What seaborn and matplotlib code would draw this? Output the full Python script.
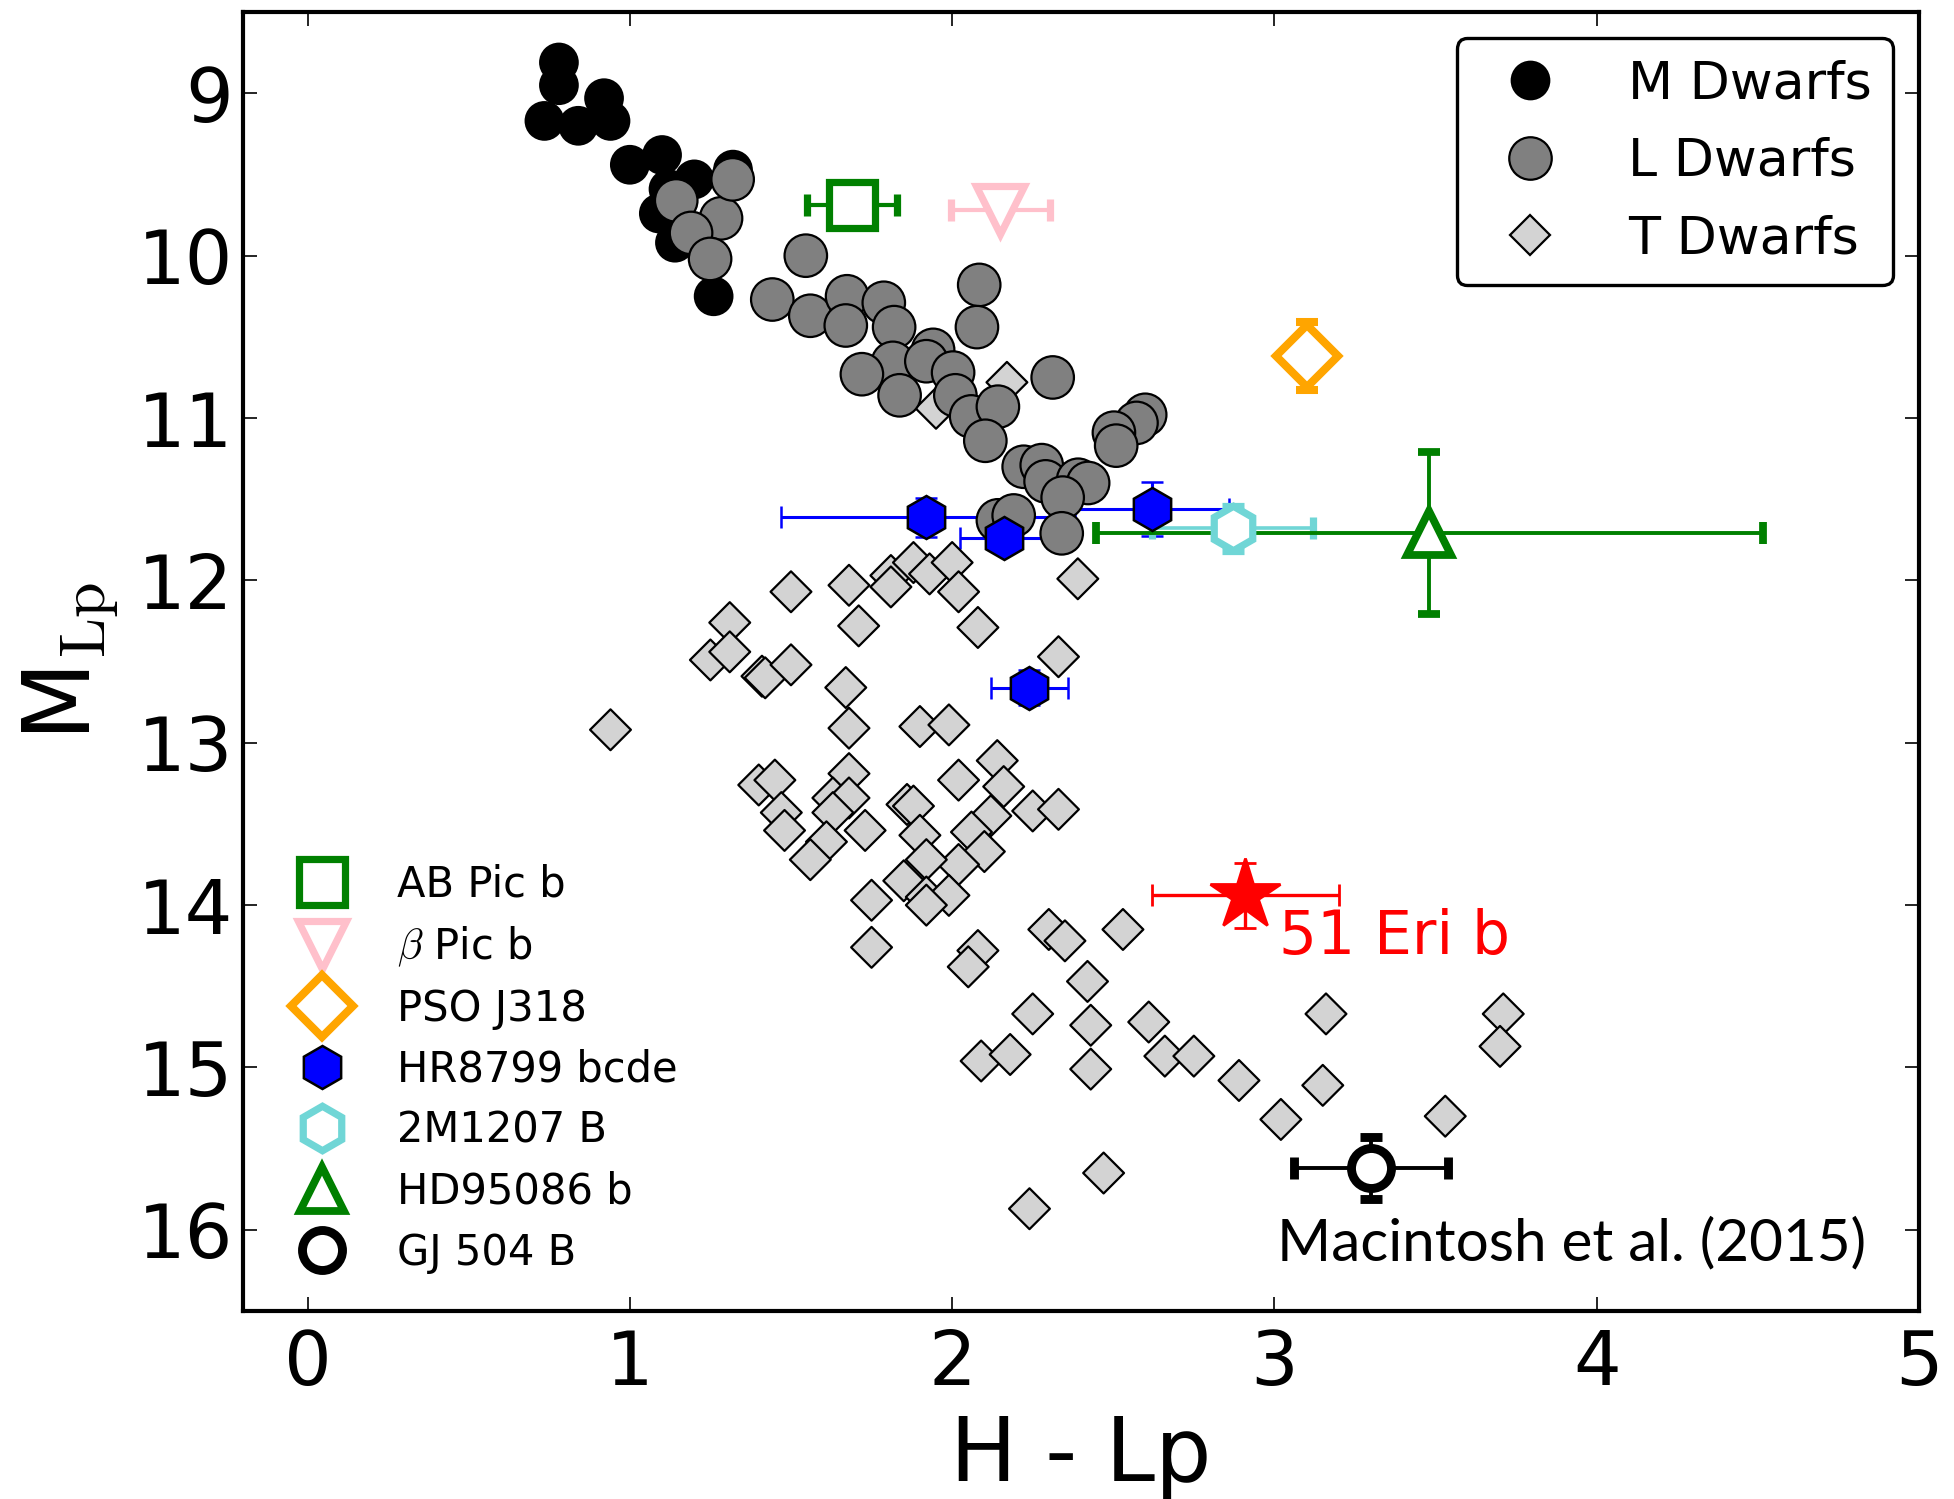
import numpy as np
import pandas as pd
import matplotlib
matplotlib.use("Agg")
import matplotlib.pyplot as plt
from matplotlib.lines import Line2D
import seaborn as sns

# ---- field dwarfs: H - L' colour and absolute L' magnitude ----
m_color = [0.78, 0.78, 0.92, 0.735, 0.84, 0.94, 1.00, 1.10, 1.20, 1.32, 1.12, 1.09, 1.14, 1.26]
m_mag = [8.81, 8.95, 9.03, 9.17, 9.20, 9.17, 9.44, 9.38, 9.53, 9.47, 9.59, 9.74, 9.92, 10.25]

l_color = [1.144, 1.283, 1.319, 1.190, 1.249, 1.546, 1.442, 1.560, 1.674, 1.788,
           1.670, 1.820, 2.084, 2.077, 1.941, 1.816, 1.920, 2.003, 1.720, 1.837,
           2.312, 2.010, 2.059, 2.142, 2.103, 2.599, 2.572, 2.502, 2.509, 2.222,
           2.278, 2.290, 2.391, 2.422, 2.343, 2.142, 2.191, 2.340]
l_mag = [9.66, 9.77, 9.53, 9.86, 10.02, 10.00, 10.27, 10.37, 10.25, 10.29,
         10.43, 10.44, 10.18, 10.44, 10.58, 10.66, 10.65, 10.72, 10.73, 10.86,
         10.75, 10.86, 10.99, 10.93, 11.14, 10.98, 11.03, 11.09, 11.17, 11.30,
         11.29, 11.39, 11.38, 11.40, 11.49, 11.63, 11.60, 11.71]

t_color = [1.50, 1.68, 1.81, 1.81, 1.88, 1.93, 2.00, 2.02, 2.39, 1.71,
           2.08, 1.31, 1.25, 1.31, 1.41, 1.42, 1.50, 2.33, 1.67, 1.68,
           0.94, 1.90, 1.99, 1.40, 1.45, 1.47, 1.48, 1.68, 1.63, 1.68,
           1.63, 1.73, 1.61, 1.56, 2.02, 2.14, 2.16, 1.86, 1.88, 2.25,
           2.33, 2.12, 2.06, 1.90, 2.10, 2.02, 1.92, 1.85, 1.92, 1.99,
           1.92, 1.75, 1.75, 2.08, 2.05, 2.30, 2.35, 2.53, 2.42, 2.25,
           2.43, 2.61, 3.16, 3.71, 3.70, 2.09, 2.18, 2.43, 2.66, 2.75,
           2.89, 3.15, 3.02, 3.53, 2.47, 2.24, 2.17, 1.95]
t_mag = [12.07, 12.03, 11.97, 12.04, 11.89, 11.96, 11.89, 12.07, 11.99, 12.28,
         12.29, 12.26, 12.49, 12.44, 12.59, 12.60, 12.52, 12.47, 12.66, 12.91,
         12.92, 12.90, 12.89, 13.26, 13.23, 13.43, 13.54, 13.19, 13.34, 13.34,
         13.43, 13.54, 13.61, 13.72, 13.23, 13.11, 13.27, 13.38, 13.39, 13.42,
         13.41, 13.45, 13.55, 13.57, 13.67, 13.75, 13.72, 13.85, 13.95, 13.94,
         14.00, 13.97, 14.26, 14.28, 14.38, 14.15, 14.22, 14.15, 14.47, 14.67,
         14.74, 14.72, 14.67, 14.67, 14.87, 14.96, 14.92, 15.01, 14.93, 14.93,
         15.08, 15.11, 15.32, 15.30, 15.65, 15.87, 10.78, 10.94]

# ---- directly imaged companions ----
comp_names = ["AB Pic b", r"$\beta$ Pic b", "PSO J318", "2M1207 B", "HD95086 b", "GJ 504 B", "51 Eri b"]
comp_color = [1.69, 2.15, 3.10, 2.87, 3.48, 3.30, 2.91]
comp_mag = [9.69, 9.72, 10.62, 11.68, 11.71, 15.62, 13.94]
comp_color_err = [0.14, 0.155, 0.0, 0.25, 1.035, 0.24, 0.29]
comp_mag_err = [0.0, 0.0, 0.21, 0.14, 0.50, 0.19, 0.20]

hr8799_color = [1.92, 2.16, 2.62, 2.24]
hr8799_mag = [11.61, 11.74, 11.56, 12.66]
hr8799_color_err = [0.45, 0.135, 0.24, 0.12]
hr8799_mag_err = [0.12, 0.06, 0.165, 0.11]

# ---- style ----
sns.set_style("ticks")
plt.rcParams["font.family"] = ["DejaVu Sans"]
plt.rcParams["mathtext.fontset"] = "cm"
plt.rcParams["text.color"] = "black"
plt.rcParams["axes.labelcolor"] = "black"
plt.rcParams["xtick.color"] = "black"
plt.rcParams["ytick.color"] = "black"

DPI = 200
fig = plt.figure(figsize=(1954 / DPI, 1499 / DPI), dpi=DPI)
ax = fig.add_axes([0.1244, 0.1254, 0.8577, 0.8665])

# field dwarfs (T first so L/M sit on top)
dwarfs = pd.concat([
    pd.DataFrame({"color": t_color, "mag": t_mag, "kind": "T Dwarfs"}),
    pd.DataFrame({"color": m_color, "mag": m_mag, "kind": "M Dwarfs"}),
    pd.DataFrame({"color": l_color, "mag": l_mag, "kind": "L Dwarfs"}),
], ignore_index=True)

dwarf_colors = {"M Dwarfs": "black", "L Dwarfs": "#808080", "T Dwarfs": "#d3d3d3"}
dwarf_markers = {"M Dwarfs": "o", "L Dwarfs": "o", "T Dwarfs": "D"}
dwarf_ms = {"M Dwarfs": 13.5, "L Dwarfs": 15.3, "T Dwarfs": 10.4}

sns.scatterplot(data=dwarfs, x="color", y="mag", hue="kind", style="kind", size="kind",
                palette=dwarf_colors, markers=dwarf_markers,
                sizes={k: v ** 2 for k, v in dwarf_ms.items()},
                edgecolor="black", linewidth=0.8, legend=False, ax=ax, zorder=1)

# companion styles
comp_style = [
    dict(marker="s", ms=16.5, mec="green", mfc="white", mew=2.6, ecolor="green", elw=1.5, ct=2.5),
    dict(marker="v", ms=17, mec="pink", mfc="white", mew=2.6, ecolor="pink", elw=1.5, ct=2.5),
    dict(marker="D", ms=15.7, mec="orange", mfc="white", mew=2.9, ecolor="orange", elw=1.5, ct=2.5),
    dict(marker="h", ms=16, mec="#70d6d6", mfc="white", mew=2.6, ecolor="#70d6d6", elw=1.3, ct=2.5),
    dict(marker="^", ms=16, mec="green", mfc="white", mew=2.8, ecolor="green", elw=1.4, ct=2.8),
    dict(marker="o", ms=14.4, mec="black", mfc="white", mew=3.2, ecolor="black", elw=1.4, ct=2.8),
    dict(marker="*", ms=26.5, mec="red", mfc="red", mew=1.0, ecolor="red", elw=1.2, ct=1.0),
]


def draw_errorbar(x, y, xerr, yerr, st):
    cont = ax.errorbar(x, y, xerr=xerr, yerr=yerr, fmt=st["marker"], ms=st["ms"],
                       mec=st["mec"], mfc=st["mfc"], mew=st["mew"], ecolor=st["ecolor"],
                       elinewidth=st["elw"], capsize=4, capthick=st["ct"])
    cont.lines[0].set_zorder(4)
    for art in list(cont.lines[1]) + list(cont.lines[2]):
        art.set_zorder(0.5)
    return cont


# HR8799 planets
draw_errorbar(hr8799_color, hr8799_mag, hr8799_color_err, hr8799_mag_err,
              dict(marker="h", ms=15.5, mec="black", mfc="blue", mew=0.9,
                   ecolor="blue", elw=1.1, ct=1.1))

for i in range(len(comp_names)):
    xe = comp_color_err[i] if comp_color_err[i] > 0 else None
    ye = comp_mag_err[i] if comp_mag_err[i] > 0 else None
    draw_errorbar([comp_color[i]], [comp_mag[i]], xe, ye, comp_style[i])

ax.text(3.013, 14.30, "51 Eri b", color="red", fontsize=21.5, ha="left", va="baseline")
ax.text(3.921, 16.19, "Macintosh et al. (2015)", fontsize=21, family=["Lato", "DejaVu Sans"],
        ha="center", va="baseline")

# axes
ax.set_xlim(-0.2, 5)
ax.set_ylim(16.5, 8.5)
ax.set_xticks(range(0, 6))
ax.set_yticks(range(9, 17))
ax.tick_params(direction="in", top=True, right=True, length=5, width=0.6,
               labelsize=27, color="black", labelcolor="black")
ax.tick_params(axis="x", pad=6)
ax.tick_params(axis="y", pad=3.5)
for sp in ax.spines.values():
    sp.set_linewidth(1.5)
    sp.set_color("black")
    sp.set_visible(True)
ax.set_xlabel("H - Lp", fontsize=32, labelpad=4.5)
ax.set_ylabel(r"M$_{\rm Lp}$", fontsize=33, labelpad=6)

# legends
dwarf_handles = [
    Line2D([], [], ls="", marker=dwarf_markers[k], ms=dwarf_ms[k], mfc=dwarf_colors[k],
           mec="black", mew=0.8)
    for k in ["M Dwarfs", "L Dwarfs", "T Dwarfs"]
]
leg1 = ax.legend(dwarf_handles, ["M Dwarfs", "L Dwarfs", "T Dwarfs"], loc="upper right",
                 fontsize=18.8, numpoints=1, frameon=True, fancybox=True, framealpha=1,
                 borderpad=0.4, labelspacing=0.53, handlelength=2, handletextpad=0.88,
                 borderaxespad=0.5)
leg1.get_frame().set_edgecolor("black")
leg1.get_frame().set_linewidth(1.2)
ax.add_artist(leg1)

legend_order = [0, 1, 2, None, 3, 4, 5]
comp_handles, comp_labels = [], []
for idx in legend_order:
    if idx is None:
        comp_handles.append(Line2D([], [], ls="", marker="h", ms=15.5, mfc="blue",
                                   mec="black", mew=0.9))
        comp_labels.append("HR8799 bcde")
    else:
        st = comp_style[idx]
        comp_handles.append(Line2D([], [], ls="", marker=st["marker"], ms=st["ms"],
                                   mfc=st["mfc"], mec=st["mec"], mew=st["mew"]))
        comp_labels.append(comp_names[idx])
ax.legend(comp_handles, comp_labels, loc="lower left", fontsize=15, numpoints=1,
          frameon=False, borderpad=0.4, labelspacing=0.455, handlelength=2,
          handletextpad=0.8, borderaxespad=0.5)

fig.savefig("out.png", dpi=DPI)
